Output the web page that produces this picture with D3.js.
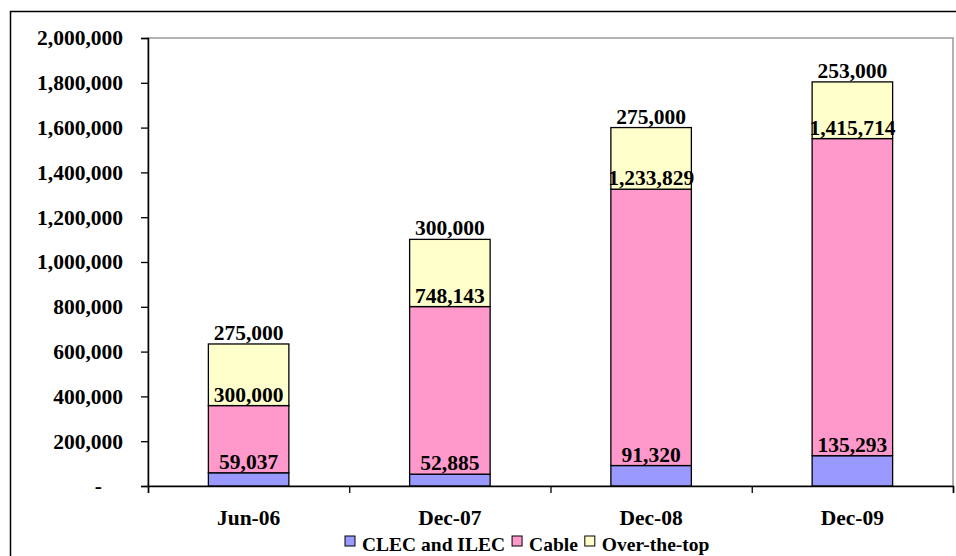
<!DOCTYPE html>
<meta charset="utf-8" />
<script src="https://d3js.org/d3.v7.min.js"></script>
<body style="margin: 0; background: #ffffff">
  <div id="chart"></div>
  <script>
    var categories = ["Jun-06", "Dec-07", "Dec-08", "Dec-09"];
    var seriesNames = ["CLEC and ILEC", "Cable", "Over-the-top"];
    var clec = [59037, 52885, 91320, 135293];
    var cable = [300000, 748143, 1233829, 1415714];
    var ott = [275000, 300000, 275000, 253000];
    var yTicks = [0, 200000, 400000, 600000, 800000, 1000000, 1200000, 1400000, 1600000, 1800000, 2000000];
    var colors = ["#9999ff", "#ff99cc", "#ffffcc"];

    var W = 956, H = 556;
    var margin = { top: 38, right: 3, bottom: 70, left: 148 },
      width = W - margin.left - margin.right,
      height = H - margin.top - margin.bottom;
    var font = "'Liberation Serif', 'Times New Roman', serif";
    var labelSize = "21.5px";

    var root = d3.select("#chart").append("svg")
      .attr("width", W).attr("height", H)
      .style("font-family", font).style("font-weight", "bold");

    // outer chart border
    root.append("rect")
      .attr("x", 10.5).attr("y", 11.5)
      .attr("width", 960).attr("height", 560)
      .attr("fill", "none").attr("stroke", "#000").attr("stroke-width", 1.5);

    var svg = root.append("g")
      .attr("transform", "translate(" + margin.left + "," + margin.top + ")");

    // plot area frame (grey)
    svg.append("rect")
      .attr("x", 0).attr("y", 0).attr("width", width).attr("height", height)
      .attr("fill", "none").attr("stroke", "#999").attr("stroke-width", 1.5);

    var x = d3.scaleBand().domain(categories).range([0, width]).paddingInner(0.6).paddingOuter(0.3);
    var xTickScale = d3.scaleLinear().domain([0, categories.length]).range([0, width]);
    var y = d3.scaleLinear().domain([0, 2000000]).range([height, 0]);

    var fmt = d3.format(",");

    var table = categories.map(function (c, i) {
      return { cat: c, "CLEC and ILEC": clec[i], "Cable": cable[i], "Over-the-top": ott[i] };
    });
    var stacked = d3.stack().keys(seriesNames)(table);

    stacked.forEach(function (layer, li) {
      svg.append("g").selectAll("rect")
        .data(layer)
        .enter().append("rect")
        .attr("x", function (d) { return x(d.data.cat); })
        .attr("y", function (d) { return y(d[1]); })
        .attr("width", x.bandwidth())
        .attr("height", function (d) { return y(d[0]) - y(d[1]); })
        .attr("fill", colors[li])
        .attr("stroke", "#000")
        .attr("stroke-width", 1.3);
    });

    // data labels just above each segment top
    stacked.forEach(function (layer) {
      svg.append("g").selectAll("text")
        .data(layer)
        .enter().append("text")
        .attr("x", function (d) { return x(d.data.cat) + x.bandwidth() / 2; })
        .attr("y", function (d) { return y(d[1]) - 4; })
        .attr("text-anchor", "middle")
        .style("font-size", labelSize)
        .text(function (d) { return fmt(d[1] - d[0]); });
    });

    // y axis
    var yAxis = svg.append("g")
      .call(d3.axisLeft(y).tickValues(yTicks).tickSize(7).tickPadding(18)
        .tickFormat(function (d) { return d === 0 ? "-" : fmt(d); }));
    yAxis.select(".domain").attr("stroke", "#000").attr("stroke-width", 1.5);
    yAxis.selectAll(".tick line").attr("stroke", "#000").attr("stroke-width", 1.3);
    yAxis.selectAll("text")
      .style("font-family", font).style("font-weight", "bold").style("font-size", labelSize)
      .attr("fill", "#000");
    yAxis.selectAll(".tick text").filter(function (d) { return d === 0; })
      .attr("dx", -21);

    // x axis with ticks between categories
    var xAxis = svg.append("g")
      .attr("transform", "translate(0," + height + ")")
      .call(d3.axisBottom(xTickScale).ticks(categories.length).tickSize(7).tickFormat(""));
    xAxis.select(".domain").attr("stroke", "#000").attr("stroke-width", 1.5);
    xAxis.selectAll(".tick line").attr("stroke", "#000").attr("stroke-width", 1.3);

    svg.append("g").selectAll("text")
      .data(categories)
      .enter().append("text")
      .attr("x", function (d) { return x(d) + x.bandwidth() / 2; })
      .attr("y", height + 39)
      .attr("text-anchor", "middle")
      .style("font-size", labelSize)
      .text(function (d) { return d; });

    // legend
    var legend = root.append("g").attr("transform", "translate(0,551)");
    var lx = 345;
    seriesNames.forEach(function (name, i) {
      legend.append("rect")
        .attr("x", lx).attr("y", -15).attr("width", 10).attr("height", 10)
        .attr("fill", colors[i]).attr("stroke", "#000").attr("stroke-width", 1);
      var t = legend.append("text")
        .attr("x", lx + 17).attr("y", 0)
        .style("font-size", "19.5px")
        .text(name);
      lx += 17 + t.node().getComputedTextLength() + 7;
    });
  </script>
</body>
